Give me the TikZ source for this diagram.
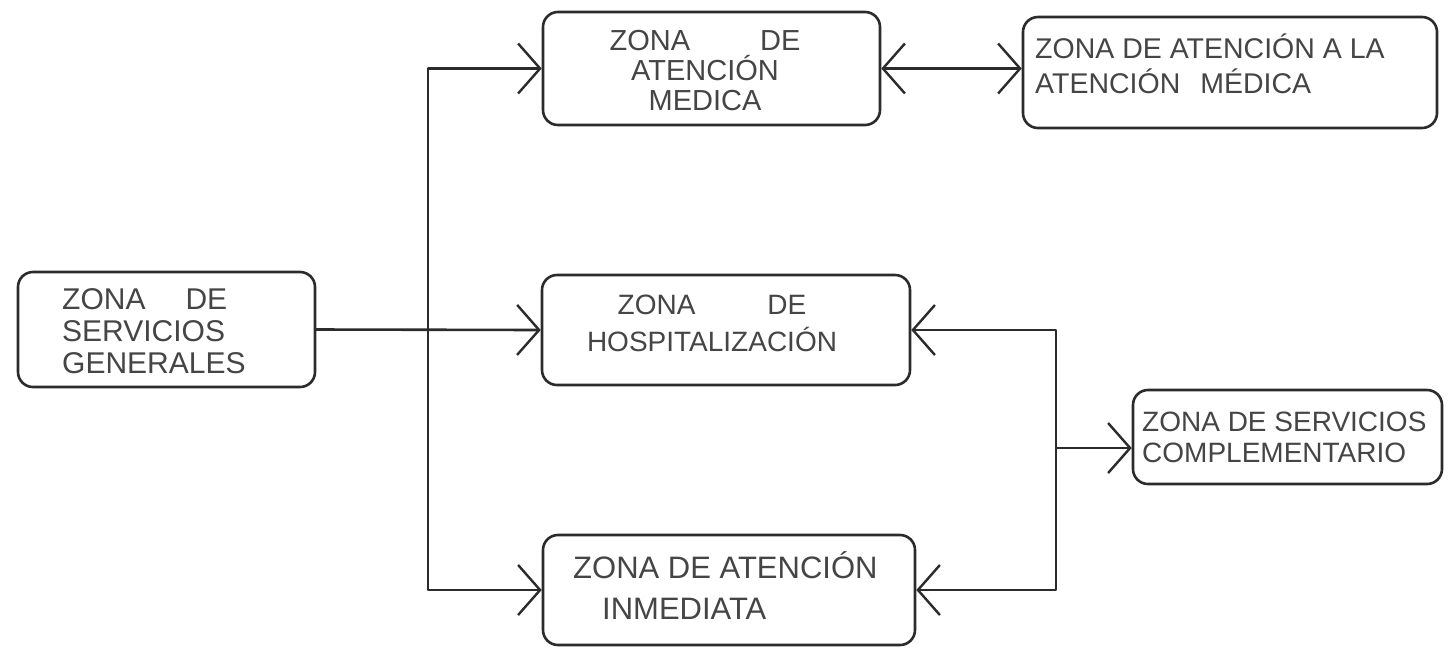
\documentclass[tikz,border=0pt]{standalone}
\usepackage{fontspec}
\setmainfont{Liberation Sans}
\usetikzlibrary{arrows.meta,calc}
\definecolor{inkc}{HTML}{2B2B2B}
\definecolor{textc}{HTML}{454545}
\begin{document}
\begin{tikzpicture}[x=1pt,y=-1pt,line join=round,line cap=round,
  ink/.style={draw=inkc, line width=2.6pt},
  box/.style={ink, rounded corners=15pt, inner sep=0pt},
  txt/.style={text=textc, inner sep=0pt},
  tip/.tip={Straight Barb[length=22pt,width=50pt,line width=2.4pt]},
  arr/.style={ink, -tip},
  darr/.style={ink, tip-tip}
]
\fill[white] (0,0) rectangle (1450,649);
\useasboundingbox (0,0) rectangle (1450,649);

% boxes
\node[box, minimum width=297pt, minimum height=115pt] (gen) at (166.5,329.5) {};
\node[box, minimum width=337pt, minimum height=113pt] (med) at (711.5,68.5) {};
\node[box, minimum width=414pt, minimum height=111pt] (ate) at (1230,72.5) {};
\node[box, minimum width=368pt, minimum height=110pt] (hos) at (726,330) {};
\node[box, minimum width=309pt, minimum height=94pt] (com) at (1287.5,437) {};
\node[box, minimum width=372pt, minimum height=110pt] (inm) at (729,590) {};

% texts
\node[txt, align=left, anchor=west, font=\fontsize{30}{32}\selectfont] (gent) at (62,331) {ZONA\hspace{40pt}DE\\SERVICIOS\\GENERALES};
\node[txt, align=center, font=\fontsize{29}{30}\selectfont] (medt) at (705,71) {ZONA\hspace{70pt}DE\\ATENCIÓN\\MEDICA};
\node[txt, align=left, anchor=west, font=\fontsize{28.5}{35}\selectfont] (atet) at (1035,63.5) {ZONA DE ATENCIÓN A LA\\ATENCIÓN\hspace{20pt}MÉDICA};
\node[txt, align=center, font=\fontsize{28}{37}\selectfont] (host) at (712,323) {ZONA\hspace{72pt}DE\\HOSPITALIZACIÓN};
\node[txt, align=left, anchor=west, font=\fontsize{28}{31}\selectfont] (comt) at (1142,437.5) {ZONA DE SERVICIOS\\COMPLEMENTARIO};
\node[txt, align=left, anchor=west, font=\fontsize{31}{41}\selectfont] (inmt) at (573,585.5) {ZONA DE ATENCIÓN\\\hspace{29pt}INMEDIATA};

% connectors
\coordinate (trunk) at (428,329.5);
\coordinate (loop) at (1056,448);
\draw[arr] (gen.east) -- (hos.west);
\draw[arr] (trunk) |- (med.west);
\draw[arr] (trunk) |- (inm.west);
\draw[darr] (med.east) -- (med.east -| ate.west);
\draw[arr] (loop) |- (hos.east);
\draw[arr] (loop) |- (inm.east);
\draw[arr] (loop) -- (loop -| com.west);
\end{tikzpicture}
\end{document}
